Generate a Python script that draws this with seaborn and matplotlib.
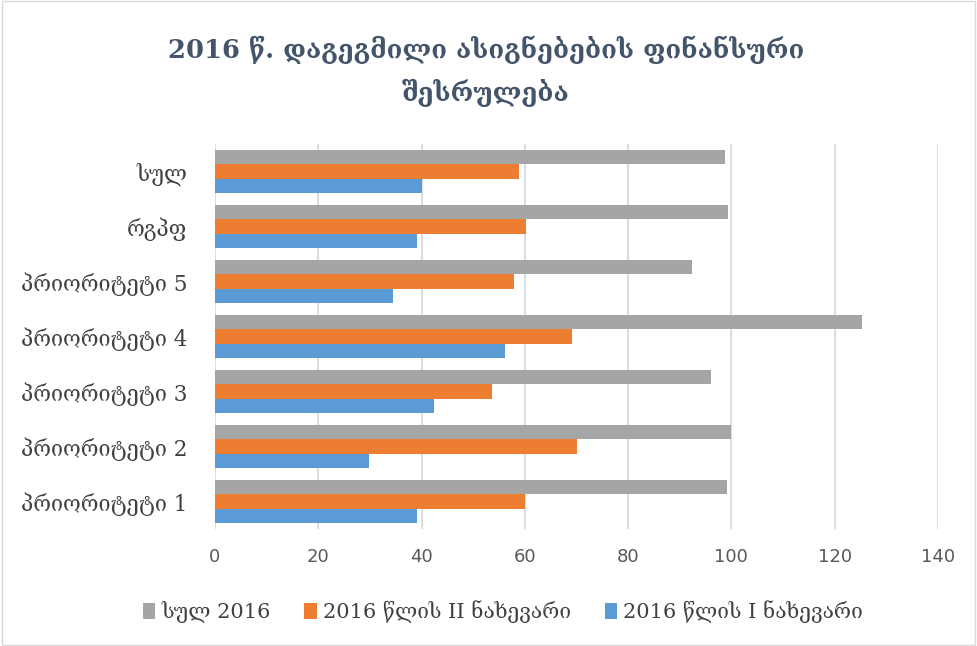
import matplotlib
matplotlib.use("Agg")
import matplotlib.pyplot as plt
import seaborn as sns
import pandas as pd
from matplotlib.patches import Rectangle

categories = ["სულ", "რგპფ", "პრიორიტეტი 5", "პრიორიტეტი 4",
              "პრიორიტეტი 3", "პრიორიტეტი 2", "პრიორიტეტი 1"]
series_names = ["სულ 2016", "2016 წლის II ნახევარი", "2016 წლის I ნახევარი"]
total_2016 = [98.8, 99.4, 92.3, 125.3, 96.1, 100.0, 99.2]
half_2 = [58.9, 60.2, 57.9, 69.1, 53.6, 70.0, 60.0]
half_1 = [40.0, 39.2, 34.4, 56.2, 42.5, 29.9, 39.2]
colors = ["#A5A5A5", "#ED7D31", "#5B9BD5"]
xticks = [0, 20, 40, 60, 80, 100, 120, 140]

rows = []
for vals, name in zip([total_2016, half_2, half_1], series_names):
    for c, v in zip(categories, vals):
        rows.append({"cat": c, "series": name, "value": v})
df = pd.DataFrame(rows)

sns.set_theme(style="white")
plt.rcParams["font.family"] = ["DejaVu Serif", "DejaVu Sans"]

fig = plt.figure(figsize=(9.77, 6.46), dpi=100)
ax = fig.add_axes([215/977, 1-529/646, (938-215)/977, (529-144)/646])

sns.barplot(data=df, y="cat", x="value", hue="series", order=categories,
            hue_order=series_names, palette=colors, orient="h",
            width=0.78, ax=ax, saturation=1, edgecolor="none")

ax.set_xlim(0, 140)
ax.set_xticks(xticks)
ax.set_xticklabels([str(t) for t in xticks], fontsize=13, color="#595959",
                   family=["DejaVu Sans"])
ax.tick_params(axis="x", length=0, pad=14)
ax.tick_params(axis="y", length=0, pad=20, labelsize=15.5, labelcolor="#404040")
ax.set_xlabel("")
ax.set_ylabel("")
for s in ax.spines.values():
    s.set_visible(False)
ax.grid(axis="x", color="#D9DEE6", linewidth=1.5)
ax.set_axisbelow(True)

leg = ax.legend(loc="center", frameon=False,
                ncol=3, fontsize=15, handlelength=0.6, handleheight=0.8,
                columnspacing=1.6, handletextpad=0.3)
leg.set_bbox_to_anchor((503/977, 1-612/646), transform=fig.transFigure)
for t in leg.get_texts():
    t.set_color("#404040")

fig.text(486/977, 1-71/646, "2016 წ. დაგეგმილი ასიგნებების ფინანსური\nშესრულება",
         ha="center", va="center", fontsize=18.5, fontweight="bold",
         color="#44546A", linespacing=1.65)

fig.patches.append(Rectangle((0.002, 0.002), 0.996, 0.996, transform=fig.transFigure,
                             fill=False, edgecolor="#D9D9D9", linewidth=1))

fig.savefig("out.png", dpi=100)
